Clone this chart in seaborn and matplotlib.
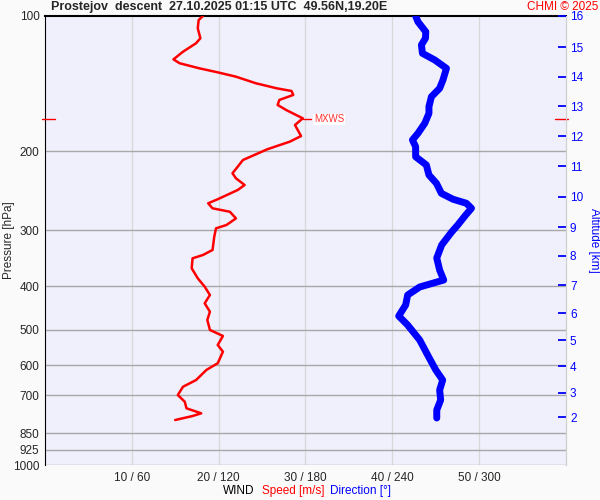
import numpy as np
import matplotlib
matplotlib.use("Agg")
import matplotlib.pyplot as plt
from matplotlib.ticker import NullLocator
import seaborn as sns

# wind speed profile (m/s) vs pressure (hPa)
spd_pres = [100, 102.1, 106.5, 112.1, 115.0, 120.1, 124.9, 127.4, 130.8, 133.5, 136.5,
            141.2, 144.9, 146.9, 149.9, 153.8, 157.8, 162.0, 169.0, 174.9, 185.1, 190.5,
            198.1, 209.3, 216.6, 224.0, 229.9, 237.9, 244.1, 255.9, 261.3, 268.1, 272.9,
            282.3, 292.1, 297.1, 310.1, 332.0, 340.6, 346.5, 364.7, 383.9, 400.8, 418.2,
            436.4, 455.6, 475.4, 500.3, 516.0, 540.4, 559.3, 593.4, 614.1, 646.9, 669.4,
            698.6, 722.8, 747.7, 767.2, 777.9, 794.0]
speed = [18.2, 17.7, 17.6, 17.9, 17.4, 15.9, 14.8, 15.5, 17.8, 19.9, 22.0,
         24.3, 26.7, 28.4, 28.6, 27.0, 26.8, 27.8, 29.7, 28.8, 29.5, 28.2,
         25.6, 22.8, 22.2, 21.6, 22.0, 23.0, 22.2, 19.9, 18.8, 19.3, 21.3,
         22.0, 20.9, 19.7, 19.5, 19.3, 18.2, 17.0, 16.9, 17.6, 18.4, 19.0,
         18.4, 19.0, 18.7, 19.0, 20.5, 19.9, 20.5, 19.9, 18.6, 17.4, 15.9,
         15.3, 16.1, 16.3, 18.0, 17.0, 15.0]

# wind direction profile (deg) vs pressure (hPa)
dir_pres = [100, 103.0, 108.4, 112.1, 116.0, 121.1, 125.3, 130.8, 138.8, 144.9, 151.3,
            159.2, 164.7, 173.4, 182.5, 188.8, 195.5, 205.8, 214.7, 226.0, 235.9, 248.3,
            255.9, 261.3, 268.1, 277.5, 292.1, 302.7, 323.6, 345.9, 368.0, 387.3, 401.4,
            418.2, 440.2, 465.8, 487.9, 526.8, 568.9, 614.1, 646.9, 680.8, 716.4, 754.4,
            785.8]
direction = [256.2, 257.8, 263.2, 263.0, 260.2, 260.9, 269.4, 277.5, 275.1, 272.8, 267.1,
             265.4, 265.4, 262.5, 257.8, 254.0, 256.2, 256.2, 263.6, 265.4, 270.6, 274.0,
             282.0, 291.3, 294.8, 290.8, 285.3, 281.1, 274.2, 270.8, 272.8, 275.6, 259.0,
             250.7, 249.3, 244.5, 250.7, 259.0, 264.5, 270.1, 274.9, 272.8, 273.5, 270.8,
             270.8]

p_levels = [200, 300, 400, 500, 600, 700, 850, 925, 1000]
p_labels = [100, 200, 300, 400, 500, 600, 700, 850, 925, 1000]
speed_ticks = [10, 20, 30, 40, 50]
dir_ticks = [60, 120, 180, 240, 300]

# altitude (km) and the pressure where it sits in this sounding
alt_km = [2, 3, 4, 5, 6, 7, 8, 9, 10, 11, 12, 13, 14, 15, 16]
alt_pres = [783.2, 690.2, 602.9, 526.8, 459.3, 397.3, 342.3, 295.5, 252.6, 216.1,
            185.3, 158.9, 136.5, 117.4, 100.0]

mxws_pres = 170.0
mxws_speed = 29.7

sns.set_style("white")
plt.rcParams["font.family"] = ["Liberation Sans", "DejaVu Sans"]

fig = plt.figure(figsize=(6, 5), dpi=100, facecolor="#fafafa")
ax = fig.add_axes([0.075, 0.07, 0.868, 0.898])
ax.set_facecolor("#f0f0fd")

ax.set_yscale("log")
ax.set_ylim(1000, 100)
ax.set_xlim(0, 60)

# grid
for x in speed_ticks:
    ax.axvline(x, color="#d8d8d8", lw=0.9, zorder=0)
for p in p_levels:
    ax.axhline(p, color="#a8a8a8", lw=1.0, zorder=0)

sns.lineplot(x=speed, y=spd_pres, sort=False, estimator=None, color="#ff0000",
             lw=1.8, ax=ax, zorder=3)
dir_x = [d / 6.0 for d in direction]
sns.lineplot(x=dir_x, y=dir_pres, sort=False, estimator=None, color="#0000ff",
             lw=5, ax=ax, zorder=3, solid_capstyle="round")

ax.yaxis.set_minor_locator(NullLocator())
ax.set_yticks(p_labels)
ax.set_yticklabels([str(v) for v in p_labels], fontsize=8.5)
ax.set_xticks(speed_ticks)
ax.set_xticklabels([f"{s} / {d}" for s, d in zip(speed_ticks, dir_ticks)], fontsize=8.5)
ax.tick_params(axis="y", length=0, pad=4)
ax.tick_params(axis="x", length=0, pad=5)
ax.set_ylabel("Pressure [hPa]", fontsize=8.5)
ax.yaxis.set_label_coords(-0.058, 0.5)
ax.set_xlabel("")

ax.spines["bottom"].set_visible(False)
ax.spines["left"].set_color("black")
ax.spines["top"].set_color("black")
ax.spines["top"].set_linewidth(1.5)
ax.spines["right"].set_color("#d0d0d0")

# max wind marker
ax.plot([mxws_speed, mxws_speed + 1.0], [mxws_pres, mxws_pres], color="#ff0000", lw=1, zorder=4)
ax.text(mxws_speed + 1.3, mxws_pres, "MXWS", color="#ff3030", fontsize=7, va="center",
        bbox=dict(facecolor="white", edgecolor="none", pad=0.5), zorder=4)
ax.plot([-0.3, 1.2], [mxws_pres, mxws_pres], color="#ff0000", lw=1, clip_on=False, zorder=4)
ax.plot([58.7, 60.2], [mxws_pres, mxws_pres], color="#ff0000", lw=1, clip_on=False, zorder=4)

# altitude axis
ax2 = ax.twinx()
ax2.set_yscale("log")
ax2.set_ylim(1000, 100)
ax2.yaxis.set_minor_locator(NullLocator())
ax2.set_yticks(alt_pres)
ax2.set_yticklabels([str(k) for k in alt_km], fontsize=8.5, color="#0000ff")
ax2.tick_params(axis="y", direction="in", length=6, width=1.3, color="#0000ff", pad=3)
ax2.set_ylabel("Altitude [km]", color="#0000ff", fontsize=8.5, rotation=-90, labelpad=12)
for side in ["left", "top", "bottom"]:
    ax2.spines[side].set_visible(False)
ax2.spines["right"].set_color("#d0d0d0")

fig.text(0.085, 0.986, "Prostejov  descent  27.10.2025 01:15 UTC  49.56N,19.20E",
         fontsize=9, fontweight="bold", va="center", ha="left")
fig.text(0.997, 0.986, "CHMI \u00a9 2025", fontsize=8.5, color="#ff0000", va="center", ha="right")

fig.text(0.398, 0.018, "WIND", fontsize=8.5, color="black", va="center", ha="center")
fig.text(0.488, 0.018, "Speed [m/s]", fontsize=8.5, color="#ff0000", va="center", ha="center")
fig.text(0.6, 0.018, "Direction [\u00b0]", fontsize=8.5, color="#0000ff", va="center", ha="center")

fig.savefig("out.png", dpi=100, facecolor=fig.get_facecolor())
